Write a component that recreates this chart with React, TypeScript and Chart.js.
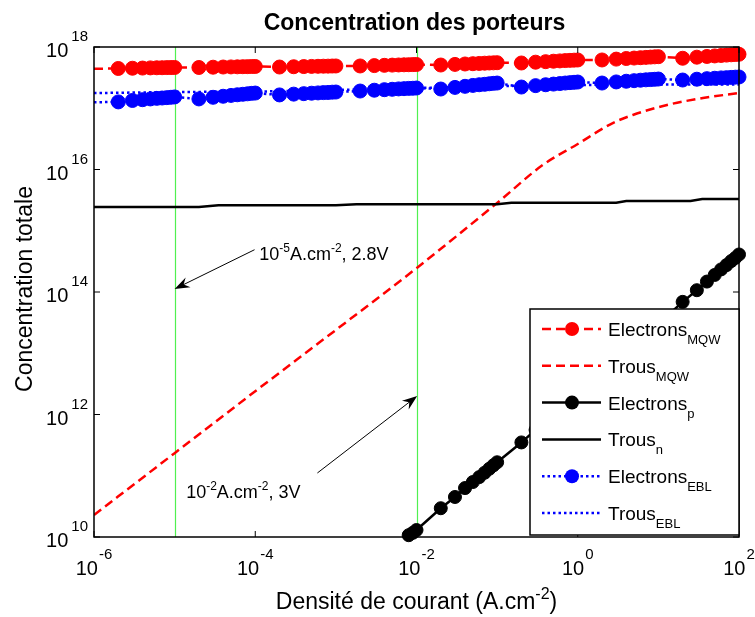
import React, { useEffect, useRef } from "react";
import { Chart, registerables } from "chart.js";

Chart.register(...registerables);

// ---------- data ----------
const jMarked = [
  1e-6,
  2e-6, 3e-6, 4e-6, 5e-6, 6e-6, 7e-6, 8e-6, 9e-6, 1e-5,
  2e-5, 3e-5, 4e-5, 5e-5, 6e-5, 7e-5, 8e-5, 9e-5, 1e-4,
  2e-4, 3e-4, 4e-4, 5e-4, 6e-4, 7e-4, 8e-4, 9e-4, 1e-3,
  2e-3, 3e-3, 4e-3, 5e-3, 6e-3, 7e-3, 8e-3, 9e-3, 1e-2,
  2e-2, 3e-2, 4e-2, 5e-2, 6e-2, 7e-2, 8e-2, 9e-2, 1e-1,
  0.2, 0.3, 0.4, 0.5, 0.6, 0.7, 0.8, 0.9, 1,
  2, 3, 4, 5, 6, 7, 8, 9, 10,
  20, 30, 40, 50, 60, 70, 80, 90, 100,
];

const electronsMQW = [
  4.42e17,
  4.46e17, 4.5e17, 4.53e17, 4.56e17, 4.58e17, 4.59e17, 4.61e17, 4.62e17, 4.63e17,
  4.63e17, 4.68e17, 4.71e17, 4.73e17, 4.75e17, 4.77e17, 4.78e17, 4.8e17, 4.81e17,
  4.71e17, 4.76e17, 4.79e17, 4.82e17, 4.84e17, 4.86e17, 4.87e17, 4.89e17, 4.9e17,
  4.9e17, 4.97e17, 5.02e17, 5.06e17, 5.09e17, 5.12e17, 5.14e17, 5.16e17, 5.18e17,
  5.08e17, 5.2e17, 5.28e17, 5.34e17, 5.39e17, 5.44e17, 5.48e17, 5.51e17, 5.54e17,
  5.48e17, 5.65e17, 5.76e17, 5.86e17, 5.93e17, 6.0e17, 6.05e17, 6.1e17, 6.14e17,
  6.14e17, 6.34e17, 6.49e17, 6.6e17, 6.69e17, 6.77e17, 6.84e17, 6.9e17, 6.95e17,
  6.55e17, 6.82e17, 7.01e17, 7.15e17, 7.27e17, 7.37e17, 7.46e17, 7.54e17, 7.61e17,
];

const electronsEBL = [
  1.25e17,
  1.27e17, 1.34e17, 1.38e17, 1.42e17, 1.45e17, 1.47e17, 1.49e17, 1.51e17, 1.53e17,
  1.42e17, 1.51e17, 1.57e17, 1.62e17, 1.66e17, 1.69e17, 1.72e17, 1.75e17, 1.77e17,
  1.65e17, 1.7e17, 1.73e17, 1.76e17, 1.78e17, 1.8e17, 1.81e17, 1.83e17, 1.84e17,
  1.91e17, 1.97e17, 2.01e17, 2.04e17, 2.07e17, 2.09e17, 2.11e17, 2.12e17, 2.14e17,
  2.06e17, 2.19e17, 2.28e17, 2.36e17, 2.42e17, 2.46e17, 2.51e17, 2.55e17, 2.58e17,
  2.22e17, 2.34e17, 2.42e17, 2.48e17, 2.53e17, 2.58e17, 2.62e17, 2.65e17, 2.68e17,
  2.58e17, 2.69e17, 2.76e17, 2.82e17, 2.87e17, 2.91e17, 2.94e17, 2.97e17, 3.0e17,
  2.89e17, 2.98e17, 3.04e17, 3.09e17, 3.13e17, 3.16e17, 3.19e17, 3.22e17, 3.24e17,
];

const jTrousMQW = [1e-6, 1e-5, 1e-4, 1e-3, 1e-2, 0.1, 0.367, 1, 2.72, 4.82, 12.8, 35.7, 100];
const trousMQW = [
  2.29e10, 2.34e11, 2.4e12, 2.4e13, 2.45e14, 2.84e15, 1.18e16, 2.61e16,
  5.74e16, 7.76e16, 1.13e17, 1.47e17, 1.77e17,
];

const jP = [
  8e-3, 9e-3, 1e-2,
  2e-2, 3e-2, 4e-2, 5e-2, 6e-2, 7e-2, 8e-2, 9e-2, 1e-1,
  0.2, 0.3, 0.4, 0.5, 0.6, 0.7, 0.8, 0.9, 1,
  2, 3, 4, 5, 6, 7, 8, 9, 10,
  20, 30, 40, 50, 60, 70, 80, 90, 100,
];
const electronsP = [
  1.07e10, 1.17e10, 1.3e10,
  2.95e10, 4.5e10, 6.3e10, 7.9e10, 9.5e10, 1.12e11, 1.3e11, 1.48e11, 1.66e11,
  3.5e11, 5.6e11, 7.8e11, 1.0e12, 1.23e12, 1.48e12, 1.7e12, 1.95e12, 2.24e12,
  4.9e12, 7.8e12, 1.07e13, 1.38e13, 1.7e13, 2.0e13, 2.34e13, 2.7e13, 3.0e13,
  6.9e13, 1.07e14, 1.48e14, 1.9e14, 2.34e14, 2.75e14, 3.2e14, 3.6e14, 4.1e14,
];

const jTrousN = [1e-6, 2e-5, 3.5e-5, 1e-3, 1.8e-3, 0.1, 0.15, 3, 4, 25, 35, 100];
const trousN = [2.44e15, 2.44e15, 2.61e15, 2.61e15, 2.71e15, 2.71e15, 2.87e15, 2.87e15, 3.06e15, 3.06e15, 3.3e15, 3.3e15];

const jTrousEBL = [1e-6, 1e-5, 1e-4, 1e-3, 1e-2, 1e-1, 1, 10, 100];
const trousEBL = [1.77e17, 1.84e17, 1.87e17, 1.98e17, 2.14e17, 2.3e17, 2.4e17, 2.44e17, 2.44e17];

const xTickExps = [-6, -4, -2, 0, 2];
const yTickExps = [10, 12, 14, 16, 18];
const markerLines = [1e-5, 1e-2];

// annotations in data coordinates: text anchor, arrow tail, arrow tip
const annotations = [
  { parts: [["10", false], ["-5", true], ["A.cm", false], ["-2", true], [", 2.8V", false]], text: [1.12e-4, 3.3e14], tail: [9.8e-5, 4.9e14], tip: [1e-5, 1.12e14] },
  { parts: [["10", false], ["-2", true], ["A.cm", false], ["-2", true], [", 3V", false]], text: [1.39e-5, 4.3e10], tail: [5.9e-4, 1.11e11], tip: [1.02e-2, 2.0e12] },
];

const FONT = '"Liberation Sans", Arial, Helvetica, sans-serif';

type Part = [string, boolean];

function richWidth(ctx: CanvasRenderingContext2D, parts: Part[], size: number, supSize: number, gap = 0) {
  let w = 0;
  for (const [t, sup] of parts) {
    ctx.font = `${sup ? supSize : size}px ${FONT}`;
    w += ctx.measureText(t).width + (sup ? gap : 0);
  }
  return w;
}

function drawRich(ctx: CanvasRenderingContext2D, parts: Part[], x: number, y: number, size: number, supSize: number, rise: number, sub = false, gap = 0) {
  let cx = x;
  ctx.textAlign = "left";
  ctx.textBaseline = "alphabetic";
  for (const [t, sup] of parts) {
    ctx.font = `${sup ? supSize : size}px ${FONT}`;
    if (sup) cx += gap;
    ctx.fillText(t, cx, sup ? (sub ? y + rise : y - rise) : y);
    cx += ctx.measureText(t).width;
  }
}

const legendItems = [
  { main: "Electrons", sub: "MQW", color: "#ff0000", dash: [9, 5], marker: true },
  { main: "Trous", sub: "MQW", color: "#ff0000", dash: [9, 5], marker: false },
  { main: "Electrons", sub: "p", color: "#000000", dash: [], marker: true },
  { main: "Trous", sub: "n", color: "#000000", dash: [], marker: false },
  { main: "Electrons", sub: "EBL", color: "#0000ff", dash: [2.5, 3], marker: true },
  { main: "Trous", sub: "EBL", color: "#0000ff", dash: [2.5, 3], marker: false },
];

const decor = {
  id: "decor",
  beforeDatasetsDraw(chart: any) {
    const { ctx, chartArea, scales } = chart;
    ctx.save();
    ctx.globalAlpha = 1;
    ctx.strokeStyle = "rgb(80, 240, 80)";
    ctx.lineWidth = 1.2;
    ctx.setLineDash([]);
    for (const v of markerLines) {
      const px = Math.round(scales.x.getPixelForValue(v)) + 0.5;
      ctx.beginPath();
      ctx.moveTo(px, chartArea.top);
      ctx.lineTo(px, chartArea.bottom);
      ctx.stroke();
    }
    ctx.restore();
  },
  afterDatasetsDraw(chart: any) {
    const { ctx, chartArea: a, scales } = chart;
    const xs = scales.x, ys = scales.y;
    ctx.save();
    // box
    ctx.strokeStyle = "#000";
    ctx.lineWidth = 1.5;
    ctx.setLineDash([]);
    ctx.strokeRect(a.left, a.top, a.right - a.left, a.bottom - a.top);
    // ticks
    ctx.lineWidth = 1;
    const tl = 6;
    for (const e of xTickExps) {
      const px = xs.getPixelForValue(Math.pow(10, e));
      ctx.beginPath();
      ctx.moveTo(px, a.bottom); ctx.lineTo(px, a.bottom - tl);
      ctx.moveTo(px, a.top); ctx.lineTo(px, a.top + tl);
      ctx.stroke();
      const parts: Part[] = [["10", false], [String(e), true]];
      const w = richWidth(ctx, parts, 20, 15, 1);
      ctx.fillStyle = "#000";
      drawRich(ctx, parts, px - w / 2, a.bottom + 38, 20, 15, 16, false, 1);
    }
    for (const e of yTickExps) {
      const py = ys.getPixelForValue(Math.pow(10, e));
      ctx.beginPath();
      ctx.moveTo(a.left, py); ctx.lineTo(a.left + tl, py);
      ctx.moveTo(a.right, py); ctx.lineTo(a.right - tl, py);
      ctx.stroke();
      const parts: Part[] = [["10", false], [String(e), true]];
      const w = richWidth(ctx, parts, 20, 15, 3);
      ctx.fillStyle = "#000";
      drawRich(ctx, parts, a.left - 6 - w, py + 10, 20, 15, 16, false, 3);
    }
    // annotations
    for (const an of annotations) {
      const tx = xs.getPixelForValue(an.tail[0]), ty = ys.getPixelForValue(an.tail[1]);
      const hx = xs.getPixelForValue(an.tip[0]), hy = ys.getPixelForValue(an.tip[1]);
      ctx.strokeStyle = "#000";
      ctx.fillStyle = "#000";
      ctx.lineWidth = 1;
      const ang = Math.atan2(hy - ty, hx - tx);
      const L = 15, W = 5.5;
      const bx = hx - L * Math.cos(ang), by = hy - L * Math.sin(ang);
      ctx.beginPath();
      ctx.moveTo(tx, ty);
      ctx.lineTo(hx - 8 * Math.cos(ang), hy - 8 * Math.sin(ang));
      ctx.stroke();
      const nx = -Math.sin(ang), ny = Math.cos(ang);
      ctx.beginPath();
      ctx.moveTo(hx, hy);
      ctx.lineTo(bx + nx * W, by + ny * W);
      ctx.lineTo(hx - 10 * Math.cos(ang), hy - 10 * Math.sin(ang));
      ctx.lineTo(bx - nx * W, by - ny * W);
      ctx.closePath();
      ctx.fill();
      const px = xs.getPixelForValue(an.text[0]), py = ys.getPixelForValue(an.text[1]);
      drawRich(ctx, an.parts as Part[], px, py, 18, 12, 8);
    }
    // legend
    const lw = 209, lh = 226;
    const lx = a.right - lw, ly = a.bottom - lh - 2;
    ctx.fillStyle = "#fff";
    ctx.fillRect(lx, ly, lw, lh);
    ctx.strokeStyle = "#000";
    ctx.lineWidth = 1.5;
    ctx.strokeRect(lx, ly, lw, lh);
    legendItems.forEach((it, i) => {
      const ry = ly + 20 + i * 36.8;
      ctx.strokeStyle = it.color;
      ctx.lineWidth = 2.5;
      ctx.setLineDash(it.dash);
      ctx.beginPath();
      ctx.moveTo(lx + 12, ry);
      ctx.lineTo(lx + 71, ry);
      ctx.stroke();
      ctx.setLineDash([]);
      if (it.marker) {
        ctx.fillStyle = it.color;
        ctx.beginPath();
        ctx.arc(lx + 42, ry, 7, 0, Math.PI * 2);
        ctx.fill();
      }
      ctx.fillStyle = "#000";
      drawRich(ctx, [[it.main, false], [it.sub, true]], lx + 78, ry + 7, 19, 13, 8, true);
    });
    // title
    ctx.fillStyle = "#000";
    ctx.font = `bold 23px ${FONT}`;
    ctx.textAlign = "center";
    ctx.textBaseline = "alphabetic";
    const cx = (a.left + a.right) / 2;
    ctx.fillText("Concentration des porteurs", cx - 2, 30);
    // x label
    const xl: Part[] = [["Densité de courant (A.cm", false], ["-2", true], [")", false]];
    const xw = richWidth(ctx, xl, 23, 16);
    drawRich(ctx, xl, cx - xw / 2, 609, 23, 16, 10);
    // y label
    ctx.save();
    ctx.translate(32, (a.top + a.bottom) / 2 - 3);
    ctx.rotate(-Math.PI / 2);
    ctx.font = `23px ${FONT}`;
    ctx.textAlign = "center";
    ctx.fillText("Concentration totale", 0, 0);
    ctx.restore();
    ctx.restore();
  },
};

function pts(xv: number[], yv: number[]) {
  return xv.map((x, i) => ({ x, y: yv[i] }));
}

export default function App() {
  const ref = useRef<HTMLCanvasElement | null>(null);
  useEffect(() => {
    if (!ref.current) return;
    const firstHidden = (r: number) => (c: any) => (c.dataIndex === 0 ? 0 : r);
    const chart = new Chart(ref.current, {
      type: "line",
      data: {
        datasets: [
          {
            label: "Electrons MQW", data: pts(jMarked, electronsMQW), borderColor: "#ff0000", backgroundColor: "#ff0000",
            borderWidth: 2.5, borderDash: [9, 5], pointRadius: firstHidden(7) as any, pointBorderWidth: 1,
            pointBackgroundColor: "#ff0000", pointBorderColor: "#ff0000", clip: false as any, order: 6,
          },
          {
            label: "Trous MQW", data: pts(jTrousMQW, trousMQW), borderColor: "#ff0000", borderWidth: 2.5,
            borderDash: [9, 5], pointRadius: 0, cubicInterpolationMode: "monotone", order: 5,
          },
          {
            label: "Electrons p", data: pts(jP, electronsP), borderColor: "#000", backgroundColor: "#000",
            borderWidth: 2.5, pointRadius: 6.5, pointBorderWidth: 1, pointBackgroundColor: "#000",
            pointBorderColor: "#000", clip: false as any, order: 4,
          },
          {
            label: "Trous n", data: pts(jTrousN, trousN), borderColor: "#000", borderWidth: 2.5, pointRadius: 0, order: 3,
          },
          {
            label: "Electrons EBL", data: pts(jMarked, electronsEBL), borderColor: "#0000ff", backgroundColor: "#0000ff",
            borderWidth: 2.5, borderDash: [2.5, 3], pointRadius: firstHidden(7) as any, pointBorderWidth: 1,
            pointBackgroundColor: "#0000ff", pointBorderColor: "#0000ff", clip: false as any, order: 2,
          },
          {
            label: "Trous EBL", data: pts(jTrousEBL, trousEBL), borderColor: "#0000ff", borderWidth: 2.5,
            borderDash: [2.5, 3], pointRadius: 0, order: 1,
          },
        ] as any,
      },
      options: {
        animation: false,
        responsive: false,
        events: [],
        layout: { padding: { left: 94, right: 16, top: 47, bottom: 80 } },
        plugins: { legend: { display: false }, title: { display: false }, tooltip: { enabled: false } },
        scales: {
          x: { type: "logarithmic", min: 1e-6, max: 1e2, display: false },
          y: { type: "logarithmic", min: 1e10, max: 1e18, display: false },
        },
      },
      plugins: [decor],
    });
    return () => chart.destroy();
  }, []);
  return (
    <div style={{ position: "absolute", left: 0, top: 0, width: 755, height: 617, background: "#fff" }}>
      <canvas ref={ref} width={755} height={617} style={{ display: "block", width: 755, height: 617 }} />
    </div>
  );
}
